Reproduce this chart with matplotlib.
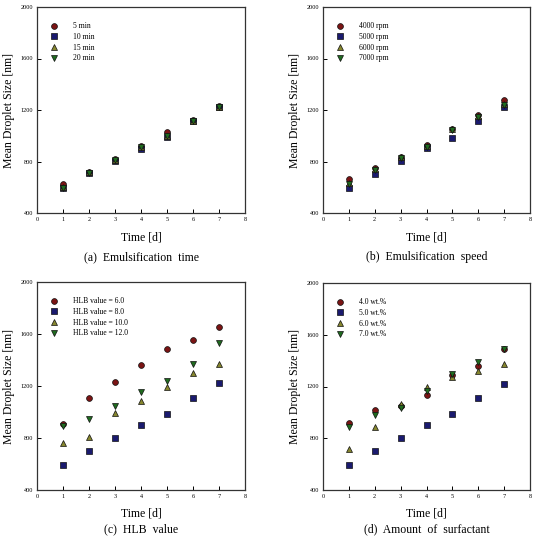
import matplotlib
matplotlib.use("Agg")
import matplotlib.pyplot as plt

plt.rcParams['font.family'] = ['Liberation Serif', 'DejaVu Serif']

days = [1, 2, 3, 4, 5, 6, 7]

# (a) Emulsification time
a_labels = ['5 min', '10 min', '15 min', '20 min']
a_5 = [622, 719, 822, 918, 1029, 1120, 1229]
a_10 = [592, 711, 801, 900, 988, 1112, 1223]
a_15 = [600, 715, 810, 910, 995, 1115, 1225]
a_20 = [598, 712, 808, 915, 995, 1112, 1222]

# (b) Emulsification speed
b_labels = ['4000 rpm', '5000 rpm', '6000 rpm', '7000 rpm']
b_4000 = [662, 747, 837, 928, 1056, 1159, 1278]
b_5000 = [593, 705, 801, 901, 986, 1111, 1222]
b_6000 = [632, 745, 832, 920, 1050, 1150, 1250]
b_7000 = [627, 735, 827, 915, 1048, 1144, 1240]

# (c) HLB value
c_labels = ['HLB value = 6.0', 'HLB value = 8.0', 'HLB value = 10.0', 'HLB value = 12.0']
c_6 = [910, 1108, 1231, 1364, 1485, 1554, 1654]
c_8 = [592, 700, 800, 900, 987, 1108, 1223]
c_10 = [764, 810, 995, 1087, 1190, 1297, 1369]
c_12 = [895, 946, 1049, 1156, 1238, 1369, 1533]

# (d) Amount of surfactant
d_labels = ['4.0 wt.%', '5.0 wt.%', '6.0 wt.%', '7.0 wt.%']
d_4 = [918, 1021, 1048, 1132, 1287, 1362, 1490]
d_5 = [593, 704, 804, 902, 985, 1108, 1222]
d_6 = [720, 890, 1065, 1196, 1276, 1322, 1376]
d_7 = [885, 980, 1030, 1167, 1300, 1387, 1488]

captions = ['(a)  Emulsification  time', '(b)  Emulsification  speed',
            '(c)  HLB  value', '(d)  Amount  of  surfactant']

xticks = [0, 1, 2, 3, 4, 5, 6, 7, 8]
yticks = [400, 800, 1200, 1600, 2000]

colors = ['#7a1414', '#1a1a6e', '#86862e', '#1f6b1f']
markers = ['o', 's', '^', 'v']

panels = [
    (a_labels, [a_5, a_10, a_15, a_20]),
    (b_labels, [b_4000, b_5000, b_6000, b_7000]),
    (c_labels, [c_6, c_8, c_10, c_12]),
    (d_labels, [d_4, d_5, d_6, d_7]),
]

W = 536.0
# axes boxes in pixels: left, top, right, bottom
boxes = [
    (37, 7, 245, 213),
    (323, 7, 530, 213),
    (37, 282, 245, 490),
    (323, 283, 530, 490),
]
xlabel_y = [238, 238, 513, 513]
caption_y = [257, 257, 529, 529]

fig = plt.figure(figsize=(5.36, 5.36), dpi=100)

for i, ((labels, series), (l, t, r, b)) in enumerate(zip(panels, boxes)):
    ax = fig.add_axes([l / W, 1 - b / W, (r - l) / W, (b - t) / W])
    for s, lab, c, m in zip(series, labels, colors, markers):
        ax.plot(days, s, linestyle='none', marker=m, markersize=4.2,
                markerfacecolor=c, markeredgecolor='#111111',
                markeredgewidth=0.5, label=lab)
    ax.set_xlim(0, 8)
    ax.set_ylim(400, 2000)
    ax.set_xticks(xticks)
    ax.set_yticks(yticks)
    ax.tick_params(direction='in', length=3, width=0.7, labelsize=4.5, pad=3)
    for sp in ax.spines.values():
        sp.set_linewidth(0.9)
        sp.set_color('#333333')
    ax.set_ylabel('Mean Droplet Size [nm]', fontsize=8.5, labelpad=4)
    ax.legend(loc='upper left', bbox_to_anchor=(0.035, 0.955), frameon=False,
              fontsize=5.5, handletextpad=1.9, labelspacing=0.35,
              handlelength=1.0, borderpad=0.3)
    fig.text((l + r) / 2 / W, 1 - xlabel_y[i] / W, 'Time [d]',
             ha='center', va='center', fontsize=8.5)
    fig.text((l + r) / 2 / W, 1 - caption_y[i] / W, captions[i],
             ha='center', va='center', fontsize=8.5)

fig.savefig('out.png', dpi=100)
